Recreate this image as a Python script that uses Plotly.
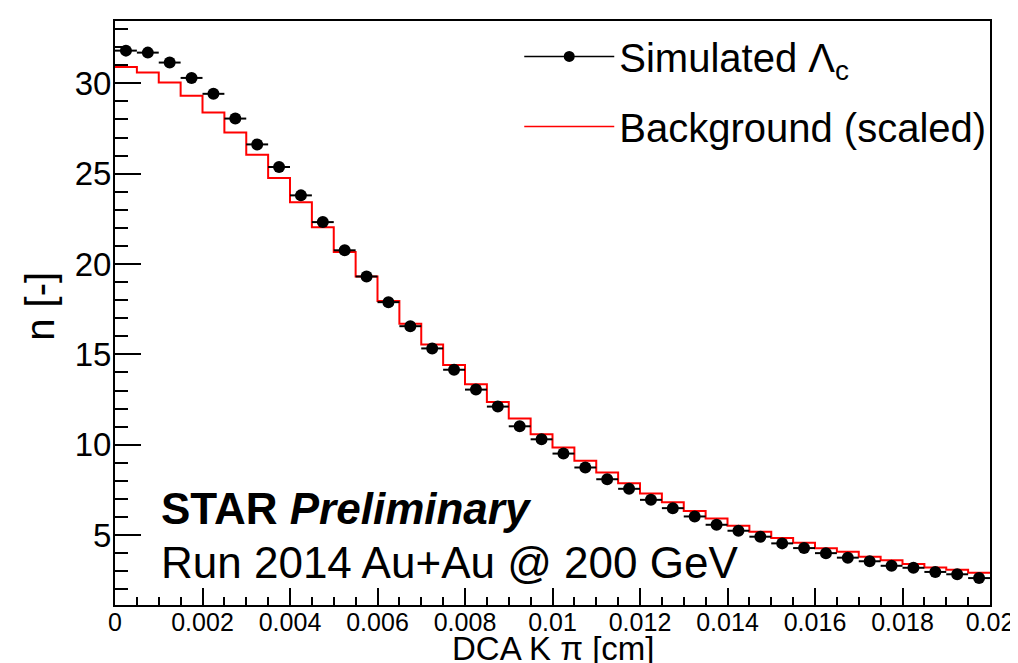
import numpy as np
import plotly.graph_objects as go

# ---- data ----
n_bins = 40
x_min, x_max = 0.0, 0.02
bin_edges = np.linspace(x_min, x_max, n_bins + 1)
bin_centers = 0.5 * (bin_edges[:-1] + bin_edges[1:])
bin_half_width = 0.5 * (bin_edges[1] - bin_edges[0])

simulated_lc = [31.81, 31.70, 31.15, 30.30, 29.42, 28.05, 26.62, 25.37, 23.80, 22.32,
                20.76, 19.31, 17.89, 16.56, 15.33, 14.15, 13.05, 12.11, 11.02, 10.30,
                9.51, 8.74, 8.09, 7.56, 6.95, 6.49, 6.03, 5.57, 5.24, 4.91,
                4.54, 4.28, 4.00, 3.75, 3.55, 3.30, 3.19, 2.96, 2.83, 2.62]

background_scaled = [30.90, 30.60, 30.05, 29.31, 28.39, 27.28, 26.05, 24.76, 23.42, 22.03,
                     20.67, 19.31, 17.95, 16.70, 15.54, 14.41, 13.34, 12.36, 11.45, 10.58,
                     9.85, 9.11, 8.46, 7.87, 7.30, 6.81, 6.33, 5.92, 5.51, 5.18,
                     4.84, 4.57, 4.27, 4.08, 3.80, 3.60, 3.40, 3.21, 3.08, 2.92]

x_tickvals = [0, 0.002, 0.004, 0.006, 0.008, 0.01, 0.012, 0.014, 0.016, 0.018, 0.02]
x_ticktext = ["0", "0.002", "0.004", "0.006", "0.008", "0.01", "0.012", "0.014",
              "0.016", "0.018", "0.02"]
y_tickvals = [5, 10, 15, 20, 25, 30]
y_ticktext = ["5", "10", "15", "20", "25", "30"]

FONT = "Liberation Sans, Arial, Helvetica, sans-serif"

fig = go.Figure()

# background histogram as a step line
fig.add_trace(go.Scatter(
    x=list(bin_edges),
    y=background_scaled + [background_scaled[-1]],
    mode="lines",
    line=dict(color="#ff0000", width=2, shape="hv"),
    name="Background (scaled)",
    showlegend=False,
))

# simulated points with horizontal bin-width bars
fig.add_trace(go.Scatter(
    x=list(bin_centers),
    y=simulated_lc,
    mode="markers",
    marker=dict(color="black", size=12, symbol="circle"),
    error_x=dict(type="constant", value=bin_half_width, color="black",
                 thickness=2, width=0),
    name="Simulated Λ<sub>c</sub>",
    showlegend=False,
))

# legend entries
fig.add_trace(go.Scatter(
    x=[None], y=[None], mode="lines+markers",
    marker=dict(color="black", size=11),
    line=dict(color="black", width=1.5),
    name="Simulated Λ<sub>c</sub>", legendgroup="a", showlegend=True,
))
fig.add_trace(go.Scatter(
    x=[None], y=[None], mode="lines",
    line=dict(color="#ff0000", width=1.5),
    name="Background (scaled)", legendgroup="b", showlegend=True,
))

# page body has an 8px margin: size the figure so it fits the 1018x663 window
fig.update_layout(
    width=1010, height=655,
    template="none",
    paper_bgcolor="white", plot_bgcolor="white",
    font=dict(family=FONT, color="black"),
    margin=dict(l=107, r=28, t=13, b=58, pad=0),
    showlegend=True,
    legend=dict(
        x=0.462, y=0.995, xanchor="left", yanchor="top",
        font=dict(size=40, family=FONT, color="black"),
        bgcolor="rgba(0,0,0,0)", borderwidth=0,
        traceorder="grouped", tracegroupgap=15,
        itemwidth=90,
    ),
    xaxis=dict(
        range=[x_min, x_max],
        tickmode="array", tickvals=x_tickvals, ticktext=x_ticktext,
        ticks="inside", ticklen=17, tickwidth=1.5, tickcolor="black",
        minor=dict(dtick=0.0005, ticks="inside", ticklen=8, tickwidth=1.5,
                   tickcolor="black", showgrid=False),
        tickfont=dict(size=25, family=FONT, color="black"),
        ticklabelstandoff=-6,
        showline=True, linecolor="black", linewidth=2, mirror=True,
        showgrid=False, zeroline=False,
    ),
    yaxis=dict(
        range=[1.13, 33.45],
        tickmode="array", tickvals=y_tickvals, ticktext=y_ticktext,
        ticks="inside", ticklen=26, tickwidth=1.5, tickcolor="black",
        minor=dict(dtick=1, tick0=0, ticks="inside", ticklen=13, tickwidth=1.5,
                   tickcolor="black", showgrid=False),
        tickfont=dict(size=33, family=FONT, color="black"),
        ticklabelstandoff=-5,
        showline=True, linecolor="black", linewidth=2, mirror=True,
        showgrid=False, zeroline=False,
    ),
    annotations=[
        dict(text="DCA K π [cm]", xref="paper", yref="paper", x=0.5, y=-0.074,
             xanchor="center", yanchor="middle", showarrow=False,
             font=dict(size=33, family=FONT, color="black")),
        dict(text="n [-]", xref="paper", yref="paper", x=-0.086, y=0.512,
             xanchor="center", yanchor="middle", showarrow=False, textangle=-90,
             font=dict(size=40, family=FONT, color="black")),
        dict(text="<b>STAR <i>Preliminary</i></b>", xref="paper", yref="paper",
             x=0.05, y=0.166, xanchor="left", yanchor="middle", showarrow=False,
             font=dict(size=44, family=FONT, color="black")),
        dict(text="Run 2014 Au+Au @ 200 GeV", xref="paper", yref="paper",
             x=0.05, y=0.072, xanchor="left", yanchor="middle", showarrow=False,
             font=dict(size=44, family=FONT, color="black")),
    ],
)

fig.write_html("out.html")
